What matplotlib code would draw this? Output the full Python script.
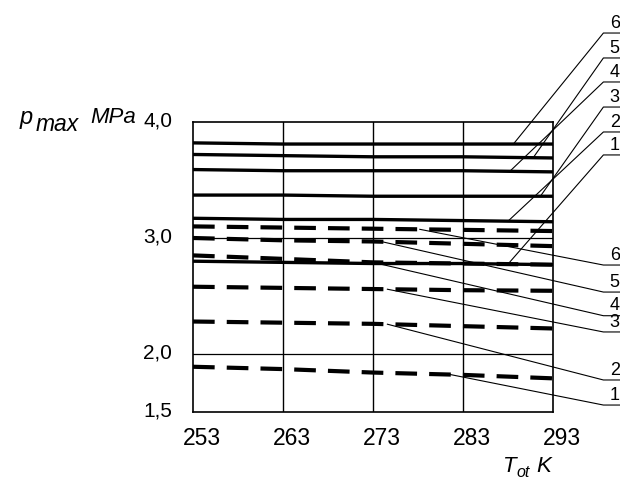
import numpy as np
import matplotlib.pyplot as plt
from matplotlib.transforms import ScaledTranslation

plt.rcParams['font.family'] = ['Liberation Sans', 'DejaVu Sans']

# temperatures on the x axis, K
temps = [253, 263, 273, 283, 293]

# solid (thick) curves, MPa, labelled 6..1 from the top
solid_6 = [3.82, 3.81, 3.81, 3.81, 3.81]
solid_5 = [3.72, 3.71, 3.70, 3.70, 3.69]
solid_4 = [3.59, 3.58, 3.58, 3.58, 3.57]
solid_3 = [3.37, 3.37, 3.36, 3.36, 3.36]
solid_2 = [3.17, 3.16, 3.16, 3.15, 3.14]
solid_1 = [2.80, 2.79, 2.78, 2.78, 2.77]

# dashed curves, MPa, labelled 6..1 from the top
dashed_6 = [3.10, 3.09, 3.08, 3.07, 3.06]
dashed_5 = [3.00, 2.98, 2.97, 2.95, 2.93]
dashed_4 = [2.85, 2.82, 2.79, 2.78, 2.77]
dashed_3 = [2.58, 2.57, 2.56, 2.55, 2.545]
dashed_2 = [2.28, 2.27, 2.26, 2.24, 2.22]
dashed_1 = [1.89, 1.87, 1.84, 1.82, 1.79]

yticks = [1.5, 2.0, 3.0, 4.0]
ytick_labels = ["1,5", "2,0", "3,0", "4,0"]

solids = [solid_6, solid_5, solid_4, solid_3, solid_2, solid_1]
dashes = [dashed_6, dashed_5, dashed_4, dashed_3, dashed_2, dashed_1]
names = ["6", "5", "4", "3", "2", "1"]

fig = plt.figure(figsize=(6.2, 4.79), dpi=100)
ax = fig.add_axes([193 / 620, 1 - 412 / 479, 360 / 620, 290 / 479])

# grid: verticals at each inner temperature, horizontals at 2,0 and 3,0
for t in temps[1:-1]:
    ax.axvline(t, color="k", lw=1.0)
for v in [2.0, 3.0]:
    ax.axhline(v, color="k", lw=0.9)

for s in solids:
    ax.plot(temps, s, color="k", lw=2.4, solid_capstyle="butt")
for d in dashes:
    ax.plot(temps, d, color="k", lw=3.0, linestyle=(0, (5.2, 2.9)))

# leader lines to the numbers on the right
lab_x0, lab_x1 = 298.6, 300.6
top_at = [288.6, 290.8, 288.2, 291.6, 288.0, 288.0]
top_y = [4.767, 4.552, 4.345, 4.129, 3.914, 3.716]
bot_at = [278.2, 274.0, 273.0, 274.6, 274.6, 281.6]
bot_y = [2.767, 2.534, 2.330, 2.190, 1.776, 1.560]

def leader(curve, x_on, y_lab, name):
    y_on = np.interp(x_on, temps, curve)
    ax.plot([x_on, lab_x0, lab_x1], [y_on, y_lab, y_lab], color="k", lw=0.8, clip_on=False)
    ax.text(299.3, y_lab + 0.012, name, fontsize=13, ha="left", va="bottom", clip_on=False)

for i in range(6):
    leader(solids[i], top_at[i], top_y[i], names[i])
    leader(dashes[i], bot_at[i], bot_y[i], names[i])

ax.set_xlim(253, 293)
ax.set_ylim(1.5, 4.0)
ax.set_xticks(temps)
ax.set_xticklabels([str(t) for t in temps])
ax.set_yticks(yticks)
ax.set_yticklabels(ytick_labels)
ax.tick_params(length=0)
ax.tick_params(axis="x", labelsize=16.5, pad=11)
ax.tick_params(axis="y", labelsize=15, pad=15)
shift = ScaledTranslation(9 / 100, 0, fig.dpi_scale_trans)
for lab in ax.get_xticklabels():
    lab.set_transform(lab.get_transform() + shift)
ylift = ScaledTranslation(0, 3 / 100, fig.dpi_scale_trans)
for lab in ax.get_yticklabels():
    lab.set_transform(lab.get_transform() + ylift)
for sp in ax.spines.values():
    sp.set_linewidth(1.2)

# axis captions, built from pieces so the subscripts keep their size
fig.text(20 / 620, 1 - 124 / 479, "p", fontsize=17, style="italic", ha="left", va="baseline")
fig.text(36 / 620, 1 - 131 / 479, "max", fontsize=16.5, style="italic", ha="left", va="baseline")
fig.text(136 / 620, 1 - 123 / 479, "MPa", fontsize=16, style="italic", ha="right", va="baseline")
fig.text(503 / 620, 1 - 472 / 479, "T", fontsize=16, style="italic", ha="left", va="baseline")
fig.text(516 / 620, 1 - 477 / 479, "ot", fontsize=11.5, style="italic", ha="left", va="baseline")
fig.text(536 / 620, 1 - 472 / 479, "K", fontsize=16, style="italic", ha="left", va="baseline")

fig.savefig("out.png", dpi=100)
